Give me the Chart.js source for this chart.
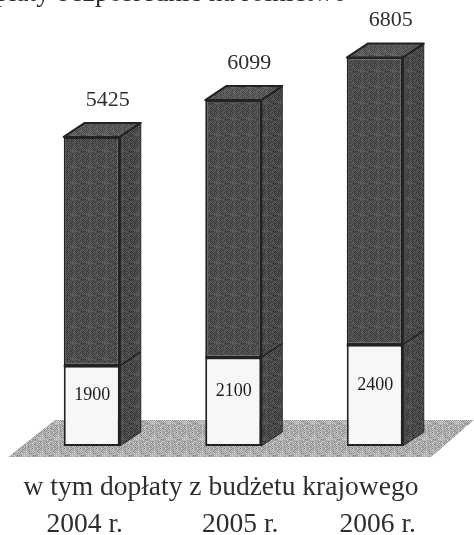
<!DOCTYPE html>
<html><head><meta charset="utf-8">
<script src="https://cdn.jsdelivr.net/npm/chart.js@4"></script>
<style>html,body{margin:0;padding:0;background:#fff;overflow:hidden}canvas{display:block}</style>
</head><body><canvas id="c" width="474" height="535"></canvas>
<script>
const categories = ["2004 r.", "2005 r.", "2006 r."];
const subsidyValues = [1900, 2100, 2400];
const totalValues = [5425, 6099, 6805];
const headingText = "Dopłaty bezpośrednie na rolnictwo";
const captionText = "w tym dopłaty z budżetu krajowego";
const yearLabelShift = [-7, 7, 3];

const SERIF = '"Liberation Serif", "Times New Roman", serif';
const INK = '#2e2e2e';
const DEPTH_X = 21, DEPTH_Y = 14;

// Fixed stipple texture, like the halftone of the printed original.
function stipple(base, spread) {
  const n = 16;
  const p = document.createElement('canvas');
  p.width = p.height = n;
  const g = p.getContext('2d');
  for (let y = 0; y < n; y++) for (let x = 0; x < n; x++) {
    const h = ((x * 7 + y * 13 + (x * y * 5) % 11) % 9) / 8 - 0.5;
    const chk = (x + y) % 2 ? 0.35 : -0.35;
    const v = Math.round(base + spread * (h + chk));
    g.fillStyle = `rgb(${v},${v},${v})`;
    g.fillRect(x, y, 1, 1);
  }
  return g.createPattern(p, 'repeat');
}
const ctx0 = document.getElementById('c').getContext('2d');
const darkFace = stipple(76, 36);
const sideFace = stipple(72, 38);
const topFace = stipple(88, 36);
const floorFace = stipple(172, 56);

function poly(c, pts, fill, stroke, w) {
  c.beginPath();
  pts.forEach((p, i) => i ? c.lineTo(p[0], p[1]) : c.moveTo(p[0], p[1]));
  c.closePath();
  if (fill) { c.fillStyle = fill; c.fill(); }
  if (stroke) { c.strokeStyle = stroke; c.lineWidth = w; c.lineJoin = 'round'; c.stroke(); }
}

const scene3d = {
  id: 'scene3d',
  beforeDatasetsDraw(chart) {
    const c = chart.ctx, a = chart.chartArea, base = chart.scales.y.getPixelForValue(0);
    poly(c, [[a.left - 13, base + 11], [a.right - 14.5, base + 11],
             [a.right + 28.5, base - 26], [a.left + 34, base - 26]], floorFace);
  },
  afterDatasetsDraw(chart) {
    const c = chart.ctx;
    const low = chart.getDatasetMeta(0).data, high = chart.getDatasetMeta(1).data;
    low.forEach((b, i) => {
      const t = high[i];
      const L = b.x - b.width / 2, R = b.x + b.width / 2;
      poly(c, [[R, b.base], [R + DEPTH_X, b.base - DEPTH_Y], [R + DEPTH_X, t.y - DEPTH_Y], [R, t.y]], sideFace, '#2a2a2a', 1);
      poly(c, [[L, t.y], [L + DEPTH_X, t.y - DEPTH_Y], [R + DEPTH_X, t.y - DEPTH_Y], [R, t.y]], topFace, '#222', 2);
      c.beginPath(); c.moveTo(R, b.y); c.lineTo(R + DEPTH_X, b.y - DEPTH_Y);
      c.strokeStyle = '#222'; c.lineWidth = 1.5; c.stroke();
      c.beginPath(); c.moveTo(R, t.y); c.lineTo(R, b.base);
      c.lineWidth = 2; c.stroke();
      c.beginPath(); c.moveTo(L, b.y); c.lineTo(R, b.y);
      c.lineWidth = 2.5; c.stroke();

      c.fillStyle = INK; c.textAlign = 'center'; c.textBaseline = 'middle';
      c.font = '22px ' + SERIF;
      c.fillText(String(totalValues[i]), b.x + 16, t.y - 37);
      c.font = '18px ' + SERIF; c.fillStyle = '#1c1c1c';
      c.fillText(String(subsidyValues[i]), b.x + 0.5, (b.y + b.base) / 2 - 10.5);

      c.fillStyle = INK;
      c.font = '27.5px ' + SERIF; c.textBaseline = 'alphabetic';
      c.fillText(categories[i], b.x + yearLabelShift[i], 532);
    });
    c.font = '27.5px ' + SERIF; c.textBaseline = 'alphabetic'; c.fillStyle = INK;
    c.textAlign = 'center';
    c.fillText(captionText, 221, 495);
    c.textAlign = 'right';
    c.fillText(headingText, 347, 0.5);
  }
};

new Chart(ctx0, {
  type: 'bar',
  data: {
    labels: categories,
    datasets: [
      { label: 'dopłaty z budżetu krajowego', data: subsidyValues, backgroundColor: '#f7f7f7',
        borderColor: '#222', borderWidth: 2, borderSkipped: false, stack: 's' },
      { label: 'dopłaty bezpośrednie', data: totalValues, backgroundColor: darkFace,
        borderColor: '#222', borderWidth: 2, borderSkipped: false, stack: 's' }
    ]
  },
  options: {
    responsive: false,
    animation: false,
    events: [],
    layout: { padding: { left: 21, right: 28.5, top: 0, bottom: 89 } },
    categoryPercentage: 1,
    barPercentage: 0.396,
    plugins: { legend: { display: false }, title: { display: false }, tooltip: { enabled: false } },
    scales: {
      x: { display: false, stacked: true },
      y: { display: false, stacked: true, min: 0, max: 10570 }
    }
  },
  plugins: [scene3d]
});
</script></body></html>
